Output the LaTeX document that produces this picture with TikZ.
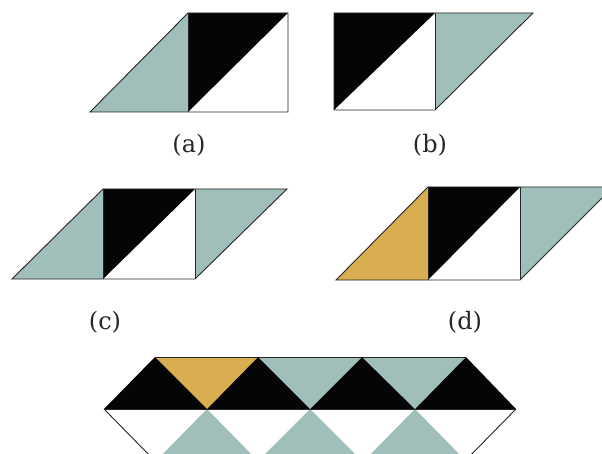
\documentclass[tikz,border=0pt]{standalone}
\usepackage{fontspec}
\setmainfont{DejaVu Serif}
\definecolor{teal1}{HTML}{A0BEBA}
\definecolor{mustard}{HTML}{D9AE50}
\definecolor{ink}{HTML}{050505}
\tikzset{
  edge/.style={draw=black!85, line width=0.9pt, line join=miter},
  lab/.style={font=\fontsize{24}{28}\selectfont, inner sep=0pt, text=black!85}
}
\begin{document}
\begin{tikzpicture}[x=1pt,y=-1pt]
\useasboundingbox (0,0) rectangle (602,454);
\clip (0,0) rectangle (602,454);
% (a)
\fill[teal1] (90,112) -- (188,13) -- (188,112) -- cycle;
\fill[ink] (188,13) -- (288,13) -- (188,112) -- cycle;
\draw[edge] (90,112) -- (188,13) -- (288,13) -- (288,112) -- cycle;
\draw[edge] (188,13) -- (188,112);
\node[lab] (la) at (189,145) {(a)};
% (b)
\fill[ink] (334,13) -- (435,13) -- (334,110) -- cycle;
\fill[teal1] (435,13) -- (533,13) -- (435,110) -- cycle;
\draw[edge] (334,13) -- (533,13) -- (435,110) -- (334,110) -- cycle;
\draw[edge] (435,13) -- (435,110);
\node[lab] (lb) at (430,145) {(b)};
% (c)
\fill[teal1] (12,279) -- (103,189) -- (103,279) -- cycle;
\fill[ink] (103,189) -- (195,189) -- (103,279) -- cycle;
\fill[teal1] (195,189) -- (287,189) -- (195,279) -- cycle;
\draw[edge] (12,279) -- (103,189) -- (287,189) -- (195,279) -- cycle;
\draw[edge] (103,189) -- (103,279);
\draw[edge] (195,189) -- (195,279);
\node[lab] (lc) at (105,322) {(c)};
% (d)
\fill[mustard] (336,280) -- (428,187) -- (428,280) -- cycle;
\fill[ink] (428,187) -- (520,187) -- (428,280) -- cycle;
\fill[teal1] (520,187) -- (613,187) -- (520,280) -- cycle;
\draw[edge] (336,280) -- (428,187) -- (613,187) -- (520,280) -- cycle;
\draw[edge] (428,187) -- (428,280);
\draw[edge] (520,187) -- (520,280);
\node[lab] (ld) at (465,322) {(d)};
% band
\fill[ink] (104,409) -- (155,357) -- (466,357) -- (516,409) -- cycle;
\fill[mustard] (155,357) -- (258,357) -- (207,409) -- cycle;
\fill[teal1] (258,357) -- (362,357) -- (310,409) -- cycle;
\fill[teal1] (362,357) -- (466,357) -- (415,409) -- cycle;
\fill[teal1] (207,409) -- (258,461) -- (156,461) -- cycle;
\fill[teal1] (310,409) -- (362,461) -- (258,461) -- cycle;
\fill[teal1] (415,409) -- (466,461) -- (364,461) -- cycle;
\draw[edge] (155,357) -- (466,357);
\draw[edge] (104,409) -- (516,409);
\draw[edge] (104,409) -- (155,461);
\draw[edge] (516,409) -- (465,461);
\end{tikzpicture}
\end{document}
